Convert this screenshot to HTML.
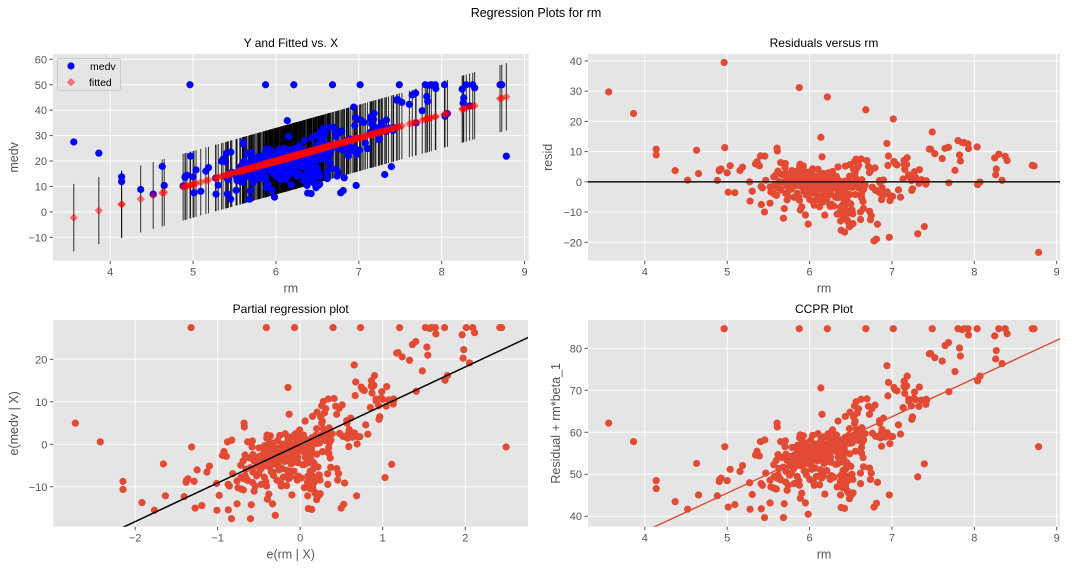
<!DOCTYPE html>
<html><head><meta charset="utf-8">
<style>
html,body{margin:0;padding:0;background:#fff;}
svg{display:block;font-family:"Liberation Sans","DejaVu Sans",sans-serif;}
</style></head>
<body>
<svg id="fig" width="1072" height="568" viewBox="0 0 1072 568" xmlns="http://www.w3.org/2000/svg">
<text x="536" y="17" text-anchor="middle" font-size="12.5" fill="#000">Regression Plots for rm</text>
</svg>
<script>
// ---- data (rm, medv) ----
const rm = [
3.561,3.863,4.138,4.138,4.368,4.519,4.628,4.652,4.880,4.903,
4.906,4.926,4.963,4.970,5.000,5.012,5.036,5.093,5.155,5.186,
5.272,5.277,5.304,5.344,5.362,5.390,5.404,5.412,5.414,5.427,
5.453,5.456,5.468,5.520,5.531,5.565,5.570,5.594,5.605,5.608,
5.617,5.628,5.649,5.683,5.693,5.701,5.706,5.713,5.727,5.741,
5.757,5.782,5.786,5.787,5.803,5.813,5.836,5.850,5.856,5.869,
5.871,5.875,5.877,5.878,5.884,5.885,5.887,5.888,5.889,5.891,
5.895,5.896,5.905,5.913,5.914,5.924,5.926,5.927,5.933,5.935,
5.936,5.942,5.949,5.950,5.951,5.952,5.960,5.961,5.963,5.965,
5.966,5.976,5.983,5.986,5.987,5.990,5.998,6.004,6.009,6.012,
6.014,6.019,6.027,6.031,6.037,6.047,6.056,6.064,6.065,6.072,
6.083,6.086,6.092,6.095,6.103,6.108,6.112,6.115,6.121,6.122,
6.125,6.127,6.129,6.130,6.137,6.140,6.142,6.145,6.151,6.152,
6.162,6.163,6.167,6.169,6.174,6.176,6.182,6.185,6.193,6.195,
6.202,6.209,6.211,6.216,6.219,6.226,6.229,6.230,6.232,6.240,
6.242,6.245,6.248,6.251,6.254,6.254,6.259,6.266,6.273,6.279,
6.286,6.290,6.297,6.301,6.302,6.312,6.315,6.319,6.326,6.333,
6.335,6.341,6.345,6.348,6.358,6.372,6.373,6.376,6.377,6.382,
6.383,6.389,6.395,6.405,6.406,6.416,6.417,6.421,6.425,6.426,
6.427,6.430,6.431,6.434,6.436,6.437,6.438,6.453,6.454,6.456,
6.458,6.461,6.471,6.474,6.482,6.484,6.485,6.487,6.490,6.495,
6.500,6.510,6.513,6.516,6.517,6.525,6.527,6.533,6.540,6.545,
6.546,6.553,6.556,6.563,6.565,6.567,6.575,6.579,6.590,6.595,
6.604,6.618,6.619,6.625,6.630,6.631,6.635,6.638,6.641,6.649,
6.655,6.657,6.674,6.683,6.696,6.715,6.727,6.728,6.739,6.749,
6.758,6.762,6.782,6.794,6.801,6.812,6.824,6.826,6.849,6.852,
6.860,6.871,6.874,6.879,6.897,6.920,6.939,6.943,6.951,6.958,
6.968,6.975,6.982,7.007,7.016,7.024,7.041,7.061,7.079,7.104,
7.135,7.147,7.148,7.155,7.163,7.178,7.185,7.203,7.206,7.236,
7.241,7.249,7.267,7.274,7.287,7.313,7.327,7.333,7.358,7.393,
7.412,7.416,7.420,7.454,7.470,7.489,7.520,7.610,7.645,7.686,
7.691,7.765,7.802,7.820,7.831,7.853,7.875,7.923,7.929,8.034,
8.040,8.069,8.247,8.259,8.266,8.297,8.337,8.375,8.398,8.704,
8.725,8.780,
5.520,5.569,5.597,5.604,5.617,5.637,5.648,5.668,5.682,5.709,
5.713,5.727,5.762,5.780,5.794,5.804,5.822,5.851,5.854,5.880,
6.003,6.021,6.049,6.069,6.081,6.096,6.130,6.144,6.167,6.176,
6.209,6.226,6.245,6.251,6.279,6.316,6.348,6.376,6.393,6.405
];
const medv = [
27.5,23.1,13.8,11.9,8.8,7.0,17.9,10.4,10.2,13.6,
14.0,14.4,50.0,21.9,13.8,7.5,16.5,8.1,16.0,17.4,
13.3,7.0,10.5,19.9,20.8,19.7,23.1,13.1,7.1,12.7,
5.0,23.5,15.6,8.5,12.3,17.6,14.8,18.6,27.5,26.6,
20.0,16.7,23.1,5.0,8.3,21.9,23.3,20.1,18.6,12.7,
15.1,19.6,21.7,19.4,16.6,13.1,21.8,14.8,21.0,13.8,
18.7,50.0,12.7,20.5,18.2,24.7,22.3,9.6,19.6,22.0,
19.4,23.8,10.8,22.0,17.2,24.5,20.1,19.0,18.8,16.1,
17.8,21.2,22.8,8.5,20.6,16.0,21.3,15.2,20.0,18.7,
18.9,21.1,5.8,19.9,17.8,21.0,21.7,19.1,19.3,23.4,
18.5,19.8,16.5,20.7,24.6,19.6,12.7,22.5,21.2,20.6,
20.0,22.0,18.6,19.8,25.0,21.8,21.9,22.6,12.8,21.6,
22.3,22.9,19.4,15.0,35.9,23.9,20.8,14.4,29.6,18.6,
19.6,22.0,19.8,24.2,22.6,16.1,20.4,10.6,22.1,21.7,
18.3,20.0,21.4,50.0,24.8,24.4,25.0,19.8,23.9,22.0,
21.8,14.6,18.9,23.2,21.8,19.5,18.2,15.0,22.2,21.7,
24.5,21.5,14.6,21.1,23.3,22.8,21.6,23.4,24.7,20.6,
12.3,17.8,28.0,19.4,23.6,23.0,13.6,20.5,15.0,19.5,
7.4,22.4,13.4,12.1,16.2,22.6,18.9,21.6,7.2,13.9,
20.4,24.1,15.1,29.1,12.5,16.6,20.4,18.1,23.1,13.6,
14.3,11.3,10.9,24.6,22.7,9.5,26.2,20.2,30.1,24.1,
17.2,15.3,10.5,15.3,22.8,14.1,10.9,29.0,24.7,31.6,
27.5,28.0,20.8,24.6,32.6,26.1,24.0,29.9,23.4,30.9,
24.5,15.6,13.1,33.2,21.7,20.4,26.4,22.9,25.0,19.3,
17.1,23.5,25.0,50.0,33.3,31.5,29.6,16.8,14.1,15.6,
31.0,25.1,7.5,31.8,24.4,8.4,13.4,24.3,28.1,27.5,
24.0,25.1,22.0,26.0,28.7,24.2,41.2,25.2,34.0,37.2,
10.4,22.6,24.3,24.3,50.0,36.0,35.4,35.2,27.1,24.9,
31.2,36.2,37.5,34.6,36.1,36.4,38.7,33.2,32.7,31.6,
28.4,29.0,33.4,34.9,33.1,14.7,31.5,36.1,33.0,17.8,
32.0,33.2,32.9,44.0,44.1,50.0,43.1,42.3,46.0,46.7,
35.0,39.8,50.0,45.4,43.5,49.8,50.0,50.0,48.5,50.0,
37.6,38.7,48.3,42.8,44.8,50.0,41.7,50.0,48.8,50.0,
50.0,21.9,
13.9,12.0,11.8,14.4,15.2,14.4,14.0,19.3,17.0,13.5,
16.0,11.5,17.4,15.6,18.3,19.4,20.0,17.4,22.2,24.0,
14.1,17.5,13.4,16.8,14.8,18.5,16.4,19.2,14.9,17.9,
16.2,18.7,20.3,14.1,25.9,17.7,21.2,10.4,20.7,18.2
];
// fitted model parameters (intercept, slope, residual std)
const modelParams = [-34.67, 9.102, 6.62];
const ticksP1X = [4,5,6,7,8,9];
const ticksP1Y = [-10,0,10,20,30,40,50,60];
const ticksP2Y = [-20,-10,0,10,20,30,40];
const ticksP3X = [-2,-1,0,1,2];
const ticksP3Y = [-10,0,10,20];
const ticksP4Y = [40,50,60,70,80];

const NS = "http://www.w3.org/2000/svg";
const svg = document.getElementById('fig');
function mk(tag, attrs, parent){
  const e = document.createElementNS(NS, tag);
  for (const k in attrs) e.setAttribute(k, attrs[k]);
  (parent||svg).appendChild(e);
  return e;
}
function fmt(v){ return v<0 ? '\u2212'+Math.abs(v) : String(v); }

const n = rm.length;
const mx = rm.reduce((a,b)=>a+b,0)/n, my = medv.reduce((a,b)=>a+b,0)/n;
let sxx=0; for(let i=0;i<n;i++) sxx+=(rm[i]-mx)*(rm[i]-mx);
const b0 = modelParams[0], b1 = modelParams[1], s = modelParams[2];
const fitted = rm.map(x=>b0+b1*x);
const resid = medv.map((y,i)=>y-fitted[i]);
const errw = rm.map(x=>1.97*s*Math.sqrt(1+1/n+(x-mx)*(x-mx)/sxx));
const pmx = 6.285, pmy = 22.53;

function panel(cfg){
  const g = mk('g',{});
  
  
  const {L,R,T,B,x0,x1,y0,y1} = cfg;
  const sx = v => L+(v-x0)/(x1-x0)*(R-L);
  const sy = v => B-(v-y0)/(y1-y0)*(B-T);
  const bg = mk('rect',{x:L,y:T,width:R-L,height:B-T,fill:'#E5E5E5'},g);
  
  
  const grid = mk('g',{stroke:'#fff','stroke-width':1},g);
  
  
  cfg.xt.forEach(t=>{
    const X=sx(t);
    mk('line',{x1:X,x2:X,y1:T,y2:B},grid);
    mk('line',{x1:X,x2:X,y1:B,y2:B+3.5,stroke:'#555'},g);
    const tl = mk('text',{x:X,y:B+15,'text-anchor':'middle','font-size':11,fill:'#555'},g);
    tl.textContent = fmt(t);
    
    
  });
  cfg.yt.forEach(t=>{
    const Y=sy(t);
    mk('line',{x1:L,x2:R,y1:Y,y2:Y},grid);
    mk('line',{x1:L-3.5,x2:L,y1:Y,y2:Y,stroke:'#555'},g);
    const tl = mk('text',{x:L-6,y:Y+4,'text-anchor':'end','font-size':11,fill:'#555'},g);
    tl.textContent = fmt(t);
    
    
  });
  const tt = mk('text',{x:(L+R)/2,y:T-7,'text-anchor':'middle','font-size':12,fill:'#000'},g);
  tt.textContent = cfg.title;
  
  
  const xl = mk('text',{x:(L+R)/2,y:B+32,'text-anchor':'middle','font-size':12.5,fill:'#555'},g);
  xl.textContent = cfg.xlabel;
  
  
  const yl = mk('text',{x:cfg.ylx,y:(T+B)/2,'text-anchor':'middle','font-size':12.5,fill:'#555',transform:`rotate(-90 ${cfg.ylx} ${(T+B)/2})`},g);
  yl.textContent = cfg.ylabel;
  
  
  const clip = 'clip-'+cfg.name;
  const cp = mk('clipPath',{id:clip},g);
  mk('rect',{x:L,y:T,width:R-L,height:B-T},cp);
  const marks = mk('g',{'clip-path':`url(#${clip})`},g);
  return {g,marks,sx,sy};
}

// Panel 1
const p1 = panel({name:'panel-fitted-vs-x',L:53,R:528.7,T:54,B:260.7,x0:3.31,x1:9.05,y0:-19.2,y1:62.1,xt:ticksP1X,yt:ticksP1Y,title:'Y and Fitted vs. X',xlabel:'rm',ylabel:'medv',ylx:18});
rm.forEach((x,i)=>{
  const eb = mk('line',{x1:p1.sx(x),x2:p1.sx(x),y1:p1.sy(fitted[i]-errw[i]),y2:p1.sy(fitted[i]+errw[i]),stroke:'#000','stroke-width':1,'stroke-opacity':0.8},p1.marks);
  
  
});
rm.forEach((x,i)=>{
  const c = mk('circle',{cx:p1.sx(x),cy:p1.sy(medv[i]),r:3.6,fill:'#0000FF'},p1.marks);
  
  
});
rm.forEach((x,i)=>{
  const X=p1.sx(x),Y=p1.sy(fitted[i]);
  const d = mk('polygon',{points:`${X},${Y-4.2} ${X+4.2},${Y} ${X},${Y+4.2} ${X-4.2},${Y}`,fill:'#FF0000','fill-opacity':0.5},p1.marks);
  
  
});
const lg = mk('g',{},p1.g);


mk('rect',{x:57.5,y:58.5,width:63,height:32,rx:2,fill:'#E5E5E5','fill-opacity':0.8,stroke:'#CCCCCC','stroke-width':1},lg);
const le1 = mk('circle',{cx:71,cy:66,r:3.6,fill:'#0000FF'},lg);


const lt1 = mk('text',{x:90,y:70,'font-size':10.5,fill:'#000'},lg); lt1.textContent='medv';


const le2 = mk('polygon',{points:'71,78 75.2,82.2 71,86.4 66.8,82.2',fill:'#FF0000','fill-opacity':0.5},lg);


const lt2 = mk('text',{x:89,y:86,'font-size':10.5,fill:'#000'},lg); lt2.textContent='fitted';



// Panel 2
const p2 = panel({name:'panel-residuals',L:588,R:1060,T:54,B:260.7,x0:3.31,x1:9.04,y0:-26.1,y1:42.3,xt:ticksP1X,yt:ticksP2Y,title:'Residuals versus rm',xlabel:'rm',ylabel:'resid',ylx:552});
rm.forEach((x,i)=>{
  const c = mk('circle',{cx:p2.sx(x),cy:p2.sy(resid[i]),r:3.6,fill:'#E24A33'},p2.marks);
  
  
});
const zl = mk('line',{x1:588,x2:1060,y1:p2.sy(0),y2:p2.sy(0),stroke:'#222','stroke-width':1.6},p2.marks);



// Panel 3
const p3 = panel({name:'panel-partial-regression',L:53.4,R:528,T:320,B:526.7,x0:-2.99,x1:2.76,y0:-19.4,y1:29.25,xt:ticksP3X,yt:ticksP3Y,title:'Partial regression plot',xlabel:'e(rm | X)',ylabel:'e(medv | X)',ylx:18});
rm.forEach((x,i)=>{
  const c = mk('circle',{cx:p3.sx(x-pmx),cy:p3.sy(medv[i]-pmy),r:3.6,fill:'#E24A33'},p3.marks);
  
  
});
const rl3 = mk('line',{x1:p3.sx(-3),y1:p3.sy(-3*b1),x2:p3.sx(2.8),y2:p3.sy(2.8*b1),stroke:'#000','stroke-width':1.5},p3.marks);



// Panel 4
const p4 = panel({name:'panel-ccpr',L:588,R:1060,T:320,B:526.7,x0:3.31,x1:9.04,y0:37.5,y1:86.75,xt:ticksP1X,yt:ticksP4Y,title:'CCPR Plot',xlabel:'rm',ylabel:'Residual + rm*beta_1',ylx:560});
rm.forEach((x,i)=>{
  const c = mk('circle',{cx:p4.sx(x),cy:p4.sy(resid[i]+b1*x),r:3.6,fill:'#E24A33'},p4.marks);
  
  
});
const rl4 = mk('line',{x1:p4.sx(3.3),y1:p4.sy(3.3*b1),x2:p4.sx(9.1),y2:p4.sy(9.1*b1),stroke:'#E24A33','stroke-width':1.4},p4.marks);


</script>
</body></html>
